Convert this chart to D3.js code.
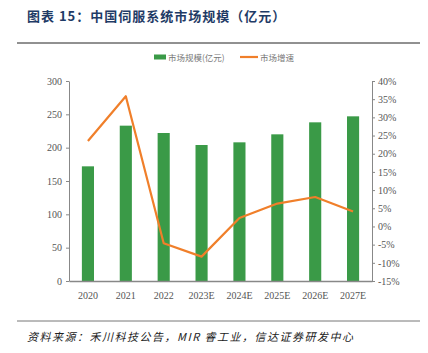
<!DOCTYPE html>
<html>
<head>
<meta charset="utf-8">
<script src="https://cdn.jsdelivr.net/npm/d3@7"></script>
<style>
  body { margin: 0; background: #fff; }
  svg { display: block; }
  .axis path, .axis line { stroke: #888; }
</style>
</head>
<body>
<svg id="chart" width="428" height="353"></svg>
<script>
// data
const years = ["2020", "2021", "2022", "2023E", "2024E", "2025E", "2026E", "2027E"];
const market_size = [172, 233, 222, 204, 208, 220, 238, 247];
const growth = [23.5, 35.8, -4.6, -8.3, 2.3, 6.3, 8.1, 4.1];
const left_ticks = [0, 50, 100, 150, 200, 250, 300];
const right_ticks = [-15, -10, -5, 0, 5, 10, 15, 20, 25, 30, 35, 40];

const margin = {top: 81, right: 56, bottom: 72, left: 69},
    width = 428 - margin.left - margin.right,
    height = 353 - margin.top - margin.bottom;

const svg = d3.select("#chart");

// title
svg.append("text")
    .attr("x", 27).attr("y", 21)
    .style("font-family", "'Noto Sans CJK SC', sans-serif")
    .style("font-size", "13px")
    .style("font-weight", "bold")
    .style("fill", "#1f3b66")
    .style("letter-spacing", "1px")
    .text("图表 15：中国伺服系统市场规模（亿元）");

svg.append("line")
    .attr("x1", 17).attr("x2", 420).attr("y1", 43).attr("y2", 43)
    .attr("stroke", "#222").attr("stroke-width", 1);

svg.append("line")
    .attr("x1", 17).attr("x2", 420).attr("y1", 321).attr("y2", 321)
    .attr("stroke", "#777").attr("stroke-width", 1);

svg.append("text")
    .attr("x", 27).attr("y", 341)
    .style("font-family", "'Noto Sans CJK SC', sans-serif")
    .style("font-size", "11px")
    .style("font-style", "italic")
    .style("letter-spacing", "1.5px")
    .style("fill", "#222")
    .text("资料来源：禾川科技公告，MIR 睿工业，信达证券研发中心");

// legend
const legend = svg.append("g").attr("transform", "translate(0,57)");
legend.append("rect")
    .attr("x", 154).attr("y", -2.5).attr("width", 12).attr("height", 5)
    .attr("fill", "#3a9a47");
legend.append("text")
    .attr("x", 168).attr("y", 3.5)
    .style("font-family", "'Noto Sans CJK SC', sans-serif")
    .style("font-size", "8.5px").style("fill", "#777")
    .text("市场规模(亿元)");
legend.append("line")
    .attr("x1", 240).attr("x2", 258).attr("y1", 0).attr("y2", 0)
    .attr("stroke", "#f07f2a").attr("stroke-width", 2.2);
legend.append("text")
    .attr("x", 260).attr("y", 3.5)
    .style("font-family", "'Noto Sans CJK SC', sans-serif")
    .style("font-size", "8.5px").style("fill", "#777")
    .text("市场增速");

const g = svg.append("g")
    .attr("transform", "translate(" + margin.left + "," + margin.top + ")");

const x = d3.scaleBand().domain(years).range([0, width]).paddingInner(0.68).paddingOuter(0.34);
const y = d3.scaleLinear().domain([0, 300]).range([height, 0]);
const y2 = d3.scaleLinear().domain([-15, 40]).range([height, 0]);

// bars
g.selectAll("rect.bar")
    .data(market_size)
    .enter().append("rect")
    .attr("class", "bar")
    .attr("x", function(d, i) { return x(years[i]); })
    .attr("y", function(d) { return y(d); })
    .attr("width", x.bandwidth())
    .attr("height", function(d) { return height - y(d); })
    .attr("fill", "#3a9a47");

function serif(a) {
    a.selectAll("text")
        .style("font-family", "'Liberation Serif', 'DejaVu Serif', serif")
        .style("font-size", "10px")
        .style("fill", "#555");
}

// axes
g.append("g")
    .attr("class", "axis")
    .call(d3.axisLeft(y).tickValues(left_ticks).tickSize(3).tickSizeOuter(0).tickPadding(4))
    .call(serif)
    .call(function(a) { a.select(".domain").attr("stroke", "#999"); });

g.append("g")
    .attr("class", "axis")
    .attr("transform", "translate(" + width + ",0)")
    .call(d3.axisRight(y2).tickValues(right_ticks).tickSize(3).tickSizeOuter(0).tickPadding(3)
        .tickFormat(function(d) { return d + "%"; }))
    .call(serif)
    .call(function(a) { a.select(".domain").attr("stroke", "#999"); });

g.append("g")
    .attr("class", "axis")
    .attr("transform", "translate(0," + height + ")")
    .call(d3.axisBottom(x).tickSize(0).tickPadding(11))
    .call(serif)
    .call(function(a) { a.select(".domain").attr("stroke", "#666").attr("stroke-width", 1.5); });

// growth line
const line = d3.line()
    .x(function(d, i) { return x(years[i]) + x.bandwidth() / 2; })
    .y(function(d) { return y2(d); });

g.append("path")
    .datum(growth)
    .attr("d", line)
    .attr("fill", "none")
    .attr("stroke", "#f07f2a")
    .attr("stroke-width", 2.2)
    .attr("stroke-linejoin", "round");
</script>
</body>
</html>
